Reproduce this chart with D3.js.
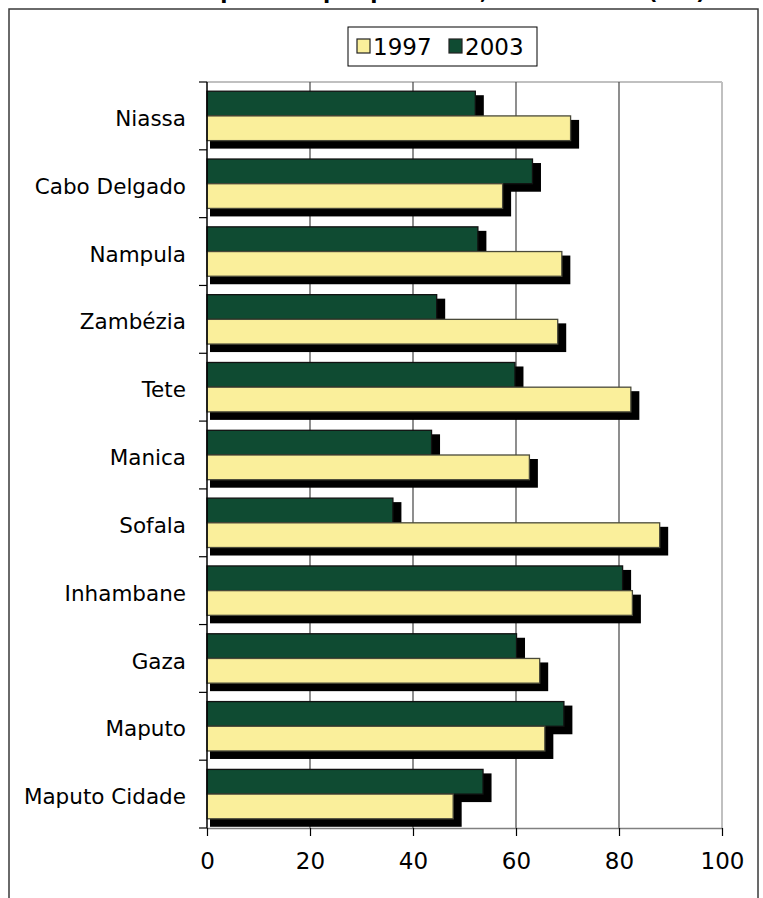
<!DOCTYPE html>
<html>
<head>
<meta charset="utf-8">
<script src="https://cdn.jsdelivr.net/npm/d3@7"></script>
<style>
  html, body { margin: 0; padding: 0; background: #fff; }
  svg { display: block; }
  text { font-family: "DejaVu Sans", Verdana, sans-serif; }
</style>
</head>
<body>
<script>
// ---- data ----
const categories = ["Niassa", "Cabo Delgado", "Nampula", "Zambézia", "Tete", "Manica",
                    "Sofala", "Inhambane", "Gaza", "Maputo", "Maputo Cidade"];
const values1997 = [70.6, 57.4, 68.9, 68.1, 82.3, 62.6, 87.9, 82.6, 64.6, 65.6, 47.8];
const values2003 = [52.1, 63.2, 52.6, 44.6, 59.8, 43.6, 36.1, 80.7, 60.1, 69.3, 53.6];
const seriesNames = ["1997", "2003"];
const xTicks = [0, 20, 40, 60, 80, 100];
const titleText = "Incidência da pobreza por província, 1997 e 2003 (IAF)";

// ---- drawing ----
const W = 763, H = 898;
const colors = { "1997": "#FAEF9B", "2003": "#0F4B32" };
const strokes = { "1997": "#4a4a3a", "2003": "#111" };

const svg = d3.select("body").append("svg").attr("width", W).attr("height", H);

// outer chart border (extends past the bottom)
svg.append("rect").attr("x", 9).attr("y", 9).attr("width", 749).attr("height", 950)
  .attr("fill", "#fff").attr("stroke", "#3a3a3a").attr("stroke-width", 1.5);

// title (mostly cropped off the top, as in the reference)
svg.append("text").attr("x", 56).attr("y", -1)
  .attr("font-size", 21).attr("font-weight", "bold").attr("fill", "#000")
  .text(titleText);

const x = d3.scaleLinear().domain([0, 100]).range([207, 722]);
const y = d3.scaleBand().domain(categories).range([82, 828]);
const inner = d3.scaleBand().domain(["2003", "1997"]).range([0, y.bandwidth()])
  .paddingInner(0).paddingOuter(0.373);

// plot frame top/right light grey
svg.append("line").attr("x1", x(0)).attr("x2", x(100)).attr("y1", 82).attr("y2", 82)
  .attr("stroke", "#c0c0c0").attr("stroke-width", 2);
svg.append("line").attr("x1", x(100)).attr("x2", x(100)).attr("y1", 82).attr("y2", 828)
  .attr("stroke", "#c0c0c0").attr("stroke-width", 2);

// vertical gridlines
svg.append("g").selectAll("line").data(xTicks.filter(d => d > 0 && d < 100)).join("line")
  .attr("x1", d => x(d)).attr("x2", d => x(d)).attr("y1", 82).attr("y2", 828)
  .attr("stroke", "#444").attr("stroke-width", 1.2);

const rows = categories.map((c, i) => ({ c, "1997": values1997[i], "2003": values2003[i] }));

// series: 2003 (upper bar) first, then 1997
["2003", "1997"].forEach(s => {
  const g = svg.append("g");
  g.selectAll("rect.sh").data(rows).join("rect").attr("class", "sh")
    .attr("x", x(0) + 3)
    .attr("y", d => y(d.c) + inner(s) + 4)
    .attr("width", d => x(d[s]) - x(0) + 5.5)
    .attr("height", inner.bandwidth() + 4)
    .attr("fill", "#000");
  g.selectAll("rect.bar").data(rows).join("rect").attr("class", "bar")
    .attr("x", x(0))
    .attr("y", d => y(d.c) + inner(s))
    .attr("width", d => x(d[s]) - x(0))
    .attr("height", inner.bandwidth())
    .attr("fill", colors[s]).attr("stroke", strokes[s]).attr("stroke-width", 1.3);
});

// y axis (categories)
const yAxis = d3.axisLeft(y).tickSize(0).tickPadding(21);
const gy = svg.append("g").attr("transform", `translate(${x(0)},0)`).call(yAxis);
gy.select(".domain").remove();
gy.selectAll("text").attr("font-size", 21.5).attr("fill", "#000")
  .attr("font-family", "DejaVu Sans, Verdana, sans-serif").attr("dy", "0.47em");
// category boundary ticks
const bounds = categories.map(c => y(c)).concat([y.range()[1]]);
svg.append("g").selectAll("line").data(bounds).join("line")
  .attr("x1", x(0) - 8).attr("x2", x(0)).attr("y1", d => d).attr("y2", d => d)
  .attr("stroke", "#000").attr("stroke-width", 1.2);
svg.append("line").attr("x1", x(0)).attr("x2", x(0)).attr("y1", 82).attr("y2", 828)
  .attr("stroke", "#000").attr("stroke-width", 1.5);

// x axis
const xAxis = d3.axisBottom(x).tickValues(xTicks).tickSize(8).tickPadding(17).tickSizeOuter(0);
const gx = svg.append("g").attr("transform", `translate(0,828)`).call(xAxis);
gx.select(".domain").attr("stroke", "#808080").attr("stroke-width", 1.5);
gx.selectAll(".tick line").attr("stroke", "#000").attr("stroke-width", 1.2);
gx.selectAll("text").attr("font-size", 23).attr("fill", "#000")
  .attr("font-family", "DejaVu Sans, Verdana, sans-serif");

// legend
const lg = svg.append("g");
lg.append("rect").attr("x", 348).attr("y", 27).attr("width", 189).attr("height", 39)
  .attr("fill", "#fff").attr("stroke", "#000").attr("stroke-width", 1);
const legendX = { "1997": 357, "2003": 449 };
seriesNames.forEach(s => {
  lg.append("rect").attr("x", legendX[s]).attr("y", 39).attr("width", 13).attr("height", 14)
    .attr("fill", colors[s]).attr("stroke", "#222").attr("stroke-width", 1.2);
  lg.append("text").attr("x", legendX[s] + 16).attr("y", 55)
    .attr("font-size", 23).attr("fill", "#000").text(s);
});
</script>
</body>
</html>
